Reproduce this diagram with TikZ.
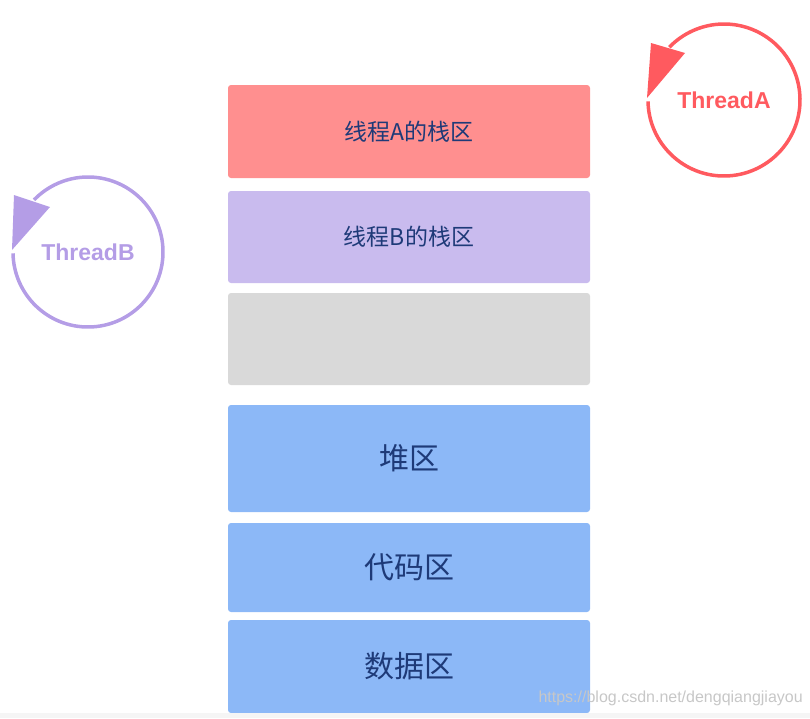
\documentclass[tikz,border=0pt]{standalone}
\usepackage{fontspec}
\setmainfont{Liberation Sans}
\newfontfamily\cjk{Noto Sans CJK SC}
\usetikzlibrary{positioning}
\definecolor{stackApink}{HTML}{FF8F8F}
\definecolor{stackBlilac}{HTML}{C9BBEE}
\definecolor{freegray}{HTML}{D9D9D9}
\definecolor{memblue}{HTML}{8CB8F7}
\definecolor{labelnavy}{HTML}{1E3A78}
\definecolor{threadred}{HTML}{FF5A5F}
\definecolor{threadlilac}{HTML}{B49DE6}
\tikzset{
  membox/.style={rectangle, rounded corners=3pt, minimum width=362pt, text=labelnavy},
  smalltxt/.style={font=\cjk\fontsize{23}{26}\selectfont},
  bigtxt/.style={font=\cjk\fontsize{30}{33}\selectfont},
  loop/.style={line width=3.5pt},
  threadname/.style={font=\bfseries\fontsize{23}{25}\selectfont}
}
\begin{document}
\begin{tikzpicture}[x=1pt,y=-1pt]
 \useasboundingbox (0,0) rectangle (810,718);
 % memory blocks
 \node[membox, smalltxt, fill=stackApink, minimum height=93pt] (stackA) at (409,131.5) {线程A的栈区};
 \node[membox, smalltxt, fill=stackBlilac, minimum height=92pt] (stackB) at (409,237) {线程B的栈区};
 \node[membox, fill=freegray, minimum height=92pt] (free) at (409,339) {};
 \node[membox, bigtxt, fill=memblue, minimum height=107pt] (heap) at (409,458.5) {堆区};
 \node[membox, bigtxt, fill=memblue, minimum height=89pt] (code) at (409,567.5) {代码区};
 \node[membox, bigtxt, fill=memblue, minimum height=93pt] (data) at (409,666.5) {数据区};
 % thread A
 \coordinate (thA) at (724,100);
 \draw[loop, threadred] (thA) ++(-181:76) arc[start angle=-181, end angle=-496, radius=76];
 \fill[threadred] (thA) ++(-77,-2) -- ++(4,-55) -- ++(34,10) -- cycle;
 \node[threadname, text=threadred] (nameA) at (thA) {ThreadA};
 % thread B
 \coordinate (thB) at (88,252);
 \draw[loop, threadlilac] (thB) ++(-181:75) arc[start angle=-181, end angle=-496, radius=75];
 \fill[threadlilac] (thB) ++(-76,-2) -- ++(2,-55) -- ++(36,12) -- cycle;
 \node[threadname, text=threadlilac] (nameB) at (thB) {ThreadB};
 % footer
 \fill[black!4] (0,713) rectangle (810,718);
 \node[font=\fontsize{16}{18}\selectfont, text=black!22, anchor=west] (mark) at (535,698) {https://blog.csdn.net/dengqiangjiayou};
\end{tikzpicture}
\end{document}
